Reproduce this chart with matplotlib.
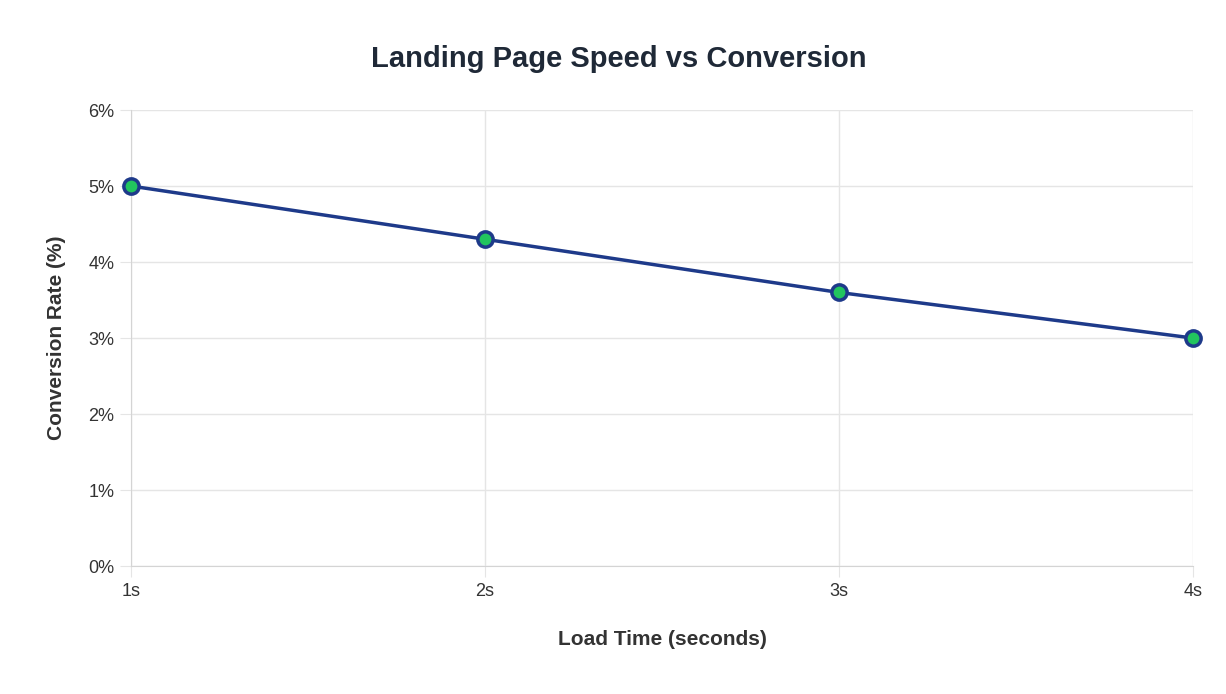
import matplotlib.pyplot as plt

load_times = ["1s", "2s", "3s", "4s"]
conversion = [5.0, 4.3, 3.6, 3.0]
y_ticks = [0, 1, 2, 3, 4, 5, 6]

plt.rcParams["font.family"] = "Liberation Sans"

fig = plt.figure(figsize=(12.26, 6.94), dpi=100)
ax = fig.add_axes([0.107, 0.1844, 0.866, 0.657])

x = list(range(len(load_times)))
line, = ax.plot(x, conversion, color="#1e3a8a", linewidth=2.5, marker="o",
                markersize=11, markerfacecolor="#22c55e", markeredgecolor="#1e3a8a",
                markeredgewidth=2.5, zorder=3)
line.set_clip_on(False)

ax.set_xlim(0, len(load_times) - 1)
ax.set_ylim(0, 6)
ax.set_xticks(x)
ax.set_xticklabels(load_times)
ax.set_yticks(y_ticks)
ax.set_yticklabels([f"{v}%" for v in y_ticks])
ax.grid(True, color="#e5e5e5", linewidth=1)
ax.tick_params(length=8, color="#e5e5e5", labelsize=13, labelcolor="#333333", pad=4)
for s in ax.spines.values():
    s.set_visible(False)
ax.spines["left"].set_visible(True)
ax.spines["bottom"].set_visible(True)
ax.spines["left"].set_color("#d4d4d4")
ax.spines["bottom"].set_color("#d4d4d4")

ax.set_xlabel("Load Time (seconds)", fontsize=15, fontweight="bold", color="#333333", labelpad=22)
ax.set_ylabel("Conversion Rate (%)", fontsize=15, fontweight="bold", color="#333333", labelpad=16)
fig.suptitle("Landing Page Speed vs Conversion", fontsize=21, fontweight="bold",
             color="#1f2937", x=0.505, y=0.935)

fig.savefig("out.png", dpi=100, facecolor="white")
